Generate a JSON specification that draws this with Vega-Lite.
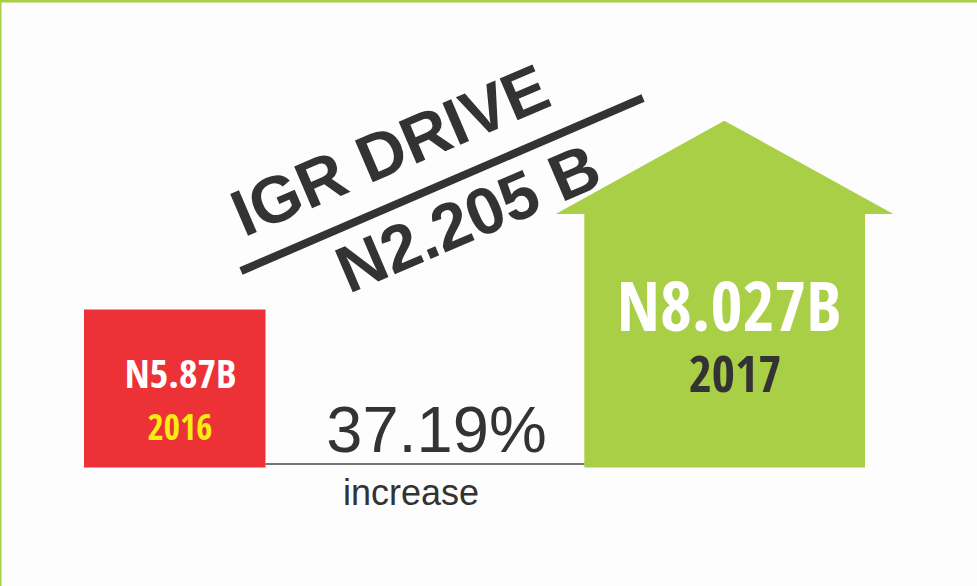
{
  "$schema": "https://vega.github.io/schema/vega-lite/v6.json",
  "width": 977,
  "height": 586,
  "autosize": {"type": "fit", "contains": "padding"},
  "padding": 0,
  "background": "#fdfdfd",
  "config": {"view": {"stroke": null}},
  "encoding": {
    "x": {"field": "x", "type": "quantitative", "scale": {"domain": [0, 977], "nice": false, "zero": false}, "axis": null},
    "y": {"field": "y", "type": "quantitative", "scale": {"domain": [0, 586], "nice": false, "zero": false, "reverse": true}, "axis": null}
  },
  "layer": [
    {
      "data": {"values": [{"x": 0, "x2": 977, "y": 0, "y2": 2.5}, {"x": 0, "x2": 1.5, "y": 0, "y2": 586}]},
      "mark": {"type": "rect", "color": "#a8cf45"},
      "encoding": {"x2": {"field": "x2"}, "y2": {"field": "y2"}}
    },
    {
      "data": {"values": [{"x": 84, "x2": 265.5, "y": 309.5, "y2": 467.5}]},
      "mark": {"type": "rect", "color": "#ec3237"},
      "encoding": {"x2": {"field": "x2"}, "y2": {"field": "y2"}}
    },
    {
      "data": {"values": [{"x": 584.3, "x2": 865, "y": 213.5, "y2": 467.5}]},
      "mark": {"type": "rect", "color": "#a8cf45"},
      "encoding": {"x2": {"field": "x2"}, "y2": {"field": "y2"}}
    },
    {
      "data": {"values": [{"x": 555.7, "y": 214, "y2": 214}, {"x": 724.3, "y": 120.7, "y2": 214}, {"x": 893.3, "y": 214, "y2": 214}]},
      "mark": {"type": "area", "color": "#a8cf45", "interpolate": "linear"},
      "encoding": {"y2": {"field": "y2"}}
    },
    {
      "data": {"values": [{"x": 265.5, "x2": 584.3, "y": 464}]},
      "mark": {"type": "rule", "color": "#4a4a4a", "strokeWidth": 1.4},
      "encoding": {"x2": {"field": "x2"}}
    },
    {
      "data": {"values": [{"x": 241, "y": 271, "x2": 643, "y2": 98}]},
      "mark": {"type": "rule", "color": "#333333", "strokeWidth": 8, "strokeCap": "butt"},
      "encoding": {"x2": {"field": "x2"}, "y2": {"field": "y2"}}
    },
    {
      "data": {"values": [{"x": 399, "y": 171, "label": "IGR DRIVE"}, {"x": 477, "y": 239, "label": "N2.205 B"}]},
      "mark": {"type": "text", "font": "Liberation Sans", "fontWeight": "bold", "fontSize": 66, "color": "#333333", "align": "center", "baseline": "alphabetic", "angle": -23.2},
      "encoding": {"text": {"field": "label"}}
    },
    {
      "data": {"values": [{"x": 180.5, "y": 388, "label": "N5.87B"}]},
      "mark": {"type": "text", "font": "Open Sans Condensed", "fontWeight": "bold", "fontSize": 40, "color": "#ffffff", "align": "center", "baseline": "alphabetic"},
      "encoding": {"text": {"field": "label"}}
    },
    {
      "data": {"values": [{"x": 180, "y": 439.5, "label": "2016"}]},
      "mark": {"type": "text", "font": "Open Sans Condensed", "fontWeight": "bold", "fontSize": 35, "color": "#f7ec13", "align": "center", "baseline": "alphabetic"},
      "encoding": {"text": {"field": "label"}}
    },
    {
      "data": {"values": [{"x": 729, "y": 331, "label": "N8.027B"}]},
      "mark": {"type": "text", "font": "Open Sans Condensed", "fontWeight": "bold", "fontSize": 69, "color": "#ffffff", "align": "center", "baseline": "alphabetic"},
      "encoding": {"text": {"field": "label"}}
    },
    {
      "data": {"values": [{"x": 735, "y": 392, "label": "2017"}]},
      "mark": {"type": "text", "font": "Open Sans Condensed", "fontWeight": "bold", "fontSize": 50, "color": "#333333", "align": "center", "baseline": "alphabetic"},
      "encoding": {"text": {"field": "label"}}
    },
    {
      "data": {"values": [{"x": 436.5, "y": 452, "label": "37.19%"}]},
      "mark": {"type": "text", "font": "Liberation Sans", "fontSize": 65, "color": "#333333", "align": "center", "baseline": "alphabetic"},
      "encoding": {"text": {"field": "label"}}
    },
    {
      "data": {"values": [{"x": 411, "y": 505, "label": "increase"}]},
      "mark": {"type": "text", "font": "Liberation Sans", "fontSize": 36, "color": "#333333", "align": "center", "baseline": "alphabetic"},
      "encoding": {"text": {"field": "label"}}
    }
  ]
}
